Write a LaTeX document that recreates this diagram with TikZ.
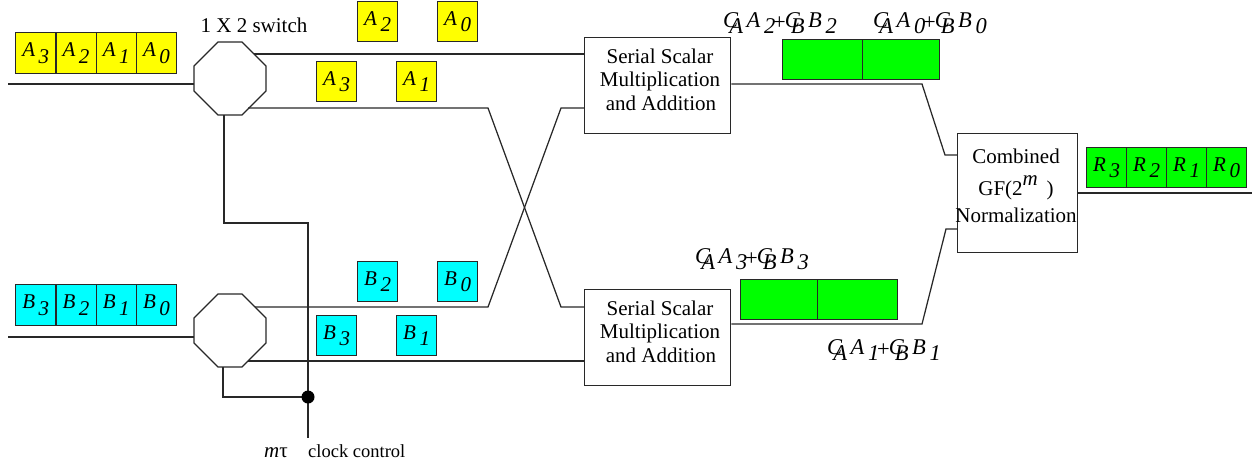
\documentclass[tikz,border=0pt]{standalone}
\usepackage{fontspec}
\setmainfont{Liberation Serif}
\definecolor{yel}{RGB}{255,255,0}
\definecolor{cyn}{RGB}{0,255,255}
\definecolor{grn}{RGB}{0,255,0}
\definecolor{ink}{RGB}{40,40,40}
\newcommand\sbx[2]{\textit{#1}\,\raisebox{-0.32em}{\textit{#2}}}
\newcommand\cab[1]{\textit{C}\kern-0.4em\raisebox{-0.3em}{\textit{A}}\kern0.15em\textit{A}\,\raisebox{-0.3em}{\textit{#1}}\kern-0.1em\raisebox{-0.1em}{+}\kern-0.05em\textit{C}\kern-0.4em\raisebox{-0.3em}{\textit{B}}\kern0.15em\textit{B}\,\raisebox{-0.3em}{\textit{#1}}}
\tikzset{
  ln/.style={line width=1.25pt, draw=ink},
  every node/.style={font=\fontsize{21}{24}\selectfont},
  cell/.style={draw=ink, line width=1.25pt, minimum width=40.25pt, minimum height=41pt, inner sep=0pt, anchor=north west},
  ycell/.style={cell, fill=yel},
  ccell/.style={cell, fill=cyn},
  gcell/.style={cell, fill=grn, minimum width=40pt, minimum height=40pt},
  small/.style={cell, minimum width=40pt, minimum height=40pt},
  procbox/.style={draw=ink, line width=1.25pt, fill=white, inner sep=0pt, anchor=north west},
  lbl/.style={inner sep=0pt, anchor=base west, font=\fontsize{22.5}{26}\selectfont},
  ptxt/.style={inner sep=0pt, align=center, anchor=base},
}
\begin{document}
\begin{tikzpicture}[x=1pt,y=-1pt]
\useasboundingbox (0,0) rectangle (1257,467);
% ---- registers A
\node[ycell] (a3) at (15,32) {\sbx{A}{3}};
\node[ycell] (a2) at (55.25,32) {\sbx{A}{2}};
\node[ycell] (a1) at (95.5,32) {\sbx{A}{1}};
\node[ycell] (a0) at (135.75,32) {\sbx{A}{0}};
% ---- registers B
\node[ccell] (b3) at (15,284) {\sbx{B}{3}};
\node[ccell] (b2) at (55.25,284) {\sbx{B}{2}};
\node[ccell] (b1) at (95.5,284) {\sbx{B}{1}};
\node[ccell] (b0) at (135.75,284) {\sbx{B}{0}};
% ---- small A/B boxes
\node[small, fill=yel] (sa2) at (357,1) {\sbx{A}{2}};
\node[small, fill=yel] (sa0) at (437,1) {\sbx{A}{0}};
\node[small, fill=yel] (sa3) at (316,61) {\sbx{A}{3}};
\node[small, fill=yel] (sa1) at (396,61) {\sbx{A}{1}};
\node[small, fill=cyn] (sb2) at (357,261) {\sbx{B}{2}};
\node[small, fill=cyn] (sb0) at (437,261) {\sbx{B}{0}};
\node[small, fill=cyn] (sb3) at (316,315) {\sbx{B}{3}};
\node[small, fill=cyn] (sb1) at (396,315) {\sbx{B}{1}};
% ---- switches (octagons)
\draw[ln, fill=white] (218,42) -- (242,42) -- (266,66) -- (266,91) -- (242,115) -- (218,115) -- (194,91) -- (194,66) -- cycle;
\draw[ln, fill=white] (218,294) -- (242,294) -- (266,318) -- (266,343) -- (242,367) -- (218,367) -- (194,343) -- (194,318) -- cycle;
\coordinate (s1in) at (194,84);
\coordinate (s1u) at (254,54);
\coordinate (s1l) at (248,108);
\coordinate (s1b) at (224,115);
\coordinate (s2in) at (194,337);
\coordinate (s2u) at (255,307);
\coordinate (s2l) at (248,361);
\coordinate (s2b) at (223,367);
\node[inner sep=0pt, anchor=base] (swl) at (254,32) {1 X 2 switch};
% ---- processing boxes
\node[procbox, minimum width=146pt, minimum height=96pt] (ser1) at (584,37) {};
\node[procbox, minimum width=146pt, minimum height=96pt] (ser2) at (584,289) {};
\node[procbox, minimum width=120pt, minimum height=119pt] (norm) at (957,133) {};
\node[ptxt] (t1a) at (660,63) {Serial Scalar};
\node[ptxt] (t1b) at (660,86.5) {Multiplication};
\node[ptxt] (t1c) at (661,110) {and Addition};
\node[ptxt] (t2a) at (660,315) {Serial Scalar};
\node[ptxt] (t2b) at (660,338.5) {Multiplication};
\node[ptxt] (t2c) at (661,362) {and Addition};
\node[ptxt] (n1) at (1016,163) {Combined};
\node[ptxt] (n2) at (1016,195) {GF(2\raisebox{0.45em}{\textit{m}}\ \,)};
\node[ptxt] (n3) at (1016,222) {Normalization};
% ---- green partial results
\node[gcell, minimum width=80pt] (g1a) at (782,39) {};
\node[gcell, minimum width=77pt] (g1b) at (862,39) {};
\node[gcell, minimum width=77pt] (g2a) at (740,279) {};
\node[gcell, minimum width=80pt] (g2b) at (817,279) {};
\node[lbl] (l1) at (723,27) {\cab{2}};
\node[lbl] (l2) at (873,27) {\cab{0}};
\node[lbl] (l3) at (695,263) {\cab{3}};
\node[lbl] (l4) at (827,354) {\cab{1}};
% ---- result register
\node[gcell] (r3) at (1086,147) {\sbx{R}{3}};
\node[gcell] (r2) at (1126,147) {\sbx{R}{2}};
\node[gcell] (r1) at (1166,147) {\sbx{R}{1}};
\node[gcell] (r0) at (1206,147) {\sbx{R}{0}};
% ---- connectors
\coordinate (in1) at (8,84);
\coordinate (in2) at (8,337);
\coordinate (out) at (1252,193);
\draw[ln] (in1) -- (s1in);
\draw[ln] (in2) -- (s2in);
\draw[ln] (s1u) -- (ser1.west |- s1u);
\draw[ln] (s1l) -- (488,108) -- (561,307) -- (ser2.west |- s2u);
\draw[ln] (s2u) -- (488,307) -- (561,108) -- (ser1.west |- s1l);
\draw[ln] (s2l) -- (ser2.west |- s2l);
\draw[ln] (ser1.east |- 0,84) -- (922,84) -- (945,155) -- (norm.west |- 0,155);
\draw[ln] (ser2.east |- 0,324) -- (922,324) -- (946,229) -- (norm.west |- 0,229);
\draw[ln] (norm.east |- out) -- (out);
% ---- clock control
\coordinate (dot) at (308,397);
\coordinate (clk) at (308,438);
\draw[ln] (s1b) -- (224,223) -- (308,223) -- (dot);
\draw[ln] (s2b) -- (223,397) -- (dot);
\draw[ln] (dot) -- (clk);
\fill (dot) circle (6.5);
\node[inner sep=0pt, anchor=base west] (clkm) at (264,457) {\textit{m}τ};
\node[inner sep=0pt, anchor=base west, font=\fontsize{18.5}{22}\selectfont] (clkl) at (308,457) {clock control};
\end{tikzpicture}
\end{document}
